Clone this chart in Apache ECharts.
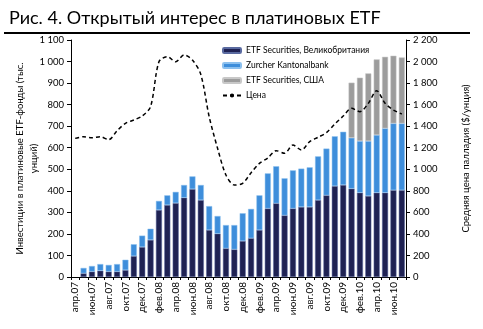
<!DOCTYPE html>
<html><head><meta charset="utf-8">
<script src="https://cdn.jsdelivr.net/npm/echarts@6/dist/echarts.min.js"></script>
<style>html,body{margin:0;padding:0;background:#fff}#c{width:483px;height:329px}</style>
</head><body><div id="c"></div>
<script>
const months = ['апр.07','май.07','июн.07','июл.07','авг.07','сен.07','окт.07','ноя.07','дек.07','янв.08','фев.08','мар.08','апр.08','май.08','июн.08','июл.08','авг.08','сен.08','окт.08','ноя.08','дек.08','янв.09','фев.09','мар.09','апр.09','май.09','июн.09','июл.09','авг.09','сен.09','окт.09','ноя.09','дек.09','янв.10','фев.10','мар.10','апр.10','май.10','июн.10','июл.10'];
const etfUK = [null,17,25,29,25,25,32,97,139,172,311,334,343,368,408,357,218,201,133,128,167,180,218,318,342,286,318,325,325,357,379,422,427,410,391,376,391,391,403,403];
const zkb = [null,25,26,31,31,35,48,55,53,52,42,45,52,59,59,70,111,82,108,113,129,136,161,163,172,172,177,178,184,203,217,231,247,236,240,255,268,299,310,310];
const etfUS = [null,null,null,null,null,null,null,null,null,null,null,null,null,null,null,null,null,null,null,null,null,null,null,null,null,null,null,null,null,null,null,null,null,256,294,314,351,332,314,306];
const price = [1287,1302,1293,1302,1275,1358,1427,1457,1494,1581,1998,2045,1998,2061,2014,1880,1488,1195,947,854,870,968,1055,1105,1173,1148,1225,1179,1256,1297,1340,1420,1494,1566,1535,1612,1730,1612,1550,1513];
const leftTicks = {min:0,max:1100,interval:100};
const rightTicks = {min:0,max:2200,interval:200};
const names = ['ETF Securities, Великобритания','Zurcher Kantonalbank','ETF Securities, США','Цена'];

const FONT = 'Lato';
const fmt = v => { const s = String(v); return s.length > 3 ? s.slice(0, s.length-3) + ' ' + s.slice(-3) : s; };
const chart = echarts.init(document.getElementById('c'), null, {renderer:'canvas'});
chart.setOption({
  animation:false,
  backgroundColor:'#fff',
  textStyle:{fontFamily:FONT},
  title:{text:'Рис. 4. Открытый интерес в платиновых ETF', left:4, top:4,
    textStyle:{fontFamily:FONT, fontSize:18, fontWeight:'normal', color:'#000'}},
  graphic:[{type:'rect', shape:{x:4,y:32,width:466,height:2}, style:{fill:'#000'}}],
  legend:{orient:'vertical', left:217, top:41, itemGap:6, itemWidth:18, itemHeight:5,
    textStyle:{fontFamily:FONT, fontSize:8.5, color:'#000'},
    data:[{name:names[0]},{name:names[1]},{name:names[2]},{name:names[3]}]},
  grid:{left:71, right:77, top:40, bottom:52},
  xAxis:{type:'category', data:months,
    axisLine:{lineStyle:{color:'#000', width:1}},
    axisTick:{show:true, interval:0, length:3, lineStyle:{color:'#000'}},
    axisLabel:{interval:1, rotate:90, hideOverlap:false, fontFamily:FONT, fontSize:10, color:'#000', margin:5}},
  yAxis:[{type:'value', min:leftTicks.min, max:leftTicks.max, interval:leftTicks.interval,
      name:'Инвестиции в платиновые ETF-фонды (тыс.\nунций)', nameLocation:'middle', nameGap:30, nameMoveOverlap:false,
      nameTextStyle:{fontFamily:FONT, fontSize:9.5, color:'#000', lineHeight:14},
      axisLine:{show:true, lineStyle:{color:'#000'}}, axisTick:{show:true, length:4, lineStyle:{color:'#000'}},
      splitLine:{show:false}, axisLabel:{formatter:fmt, fontFamily:FONT, fontSize:9.5, color:'#000', margin:7}},
    {type:'value', min:rightTicks.min, max:rightTicks.max, interval:rightTicks.interval, position:'right',
      name:'Средняя цена палладия ($/унция)', nameLocation:'middle', nameGap:55, nameRotate:90,
      nameTextStyle:{fontFamily:FONT, fontSize:9.5, color:'#000'},
      axisLine:{show:true, lineStyle:{color:'#000'}}, axisTick:{show:true, length:4, lineStyle:{color:'#000'}},
      splitLine:{show:false}, axisLabel:{formatter:fmt, fontFamily:FONT, fontSize:9.5, color:'#000', margin:7}}],
  series:[
    {name:names[0], type:'bar', stack:'a', data:etfUK, barWidth:6, itemStyle:{color:'#1f2253', borderColor:'#5a6aa0', borderWidth:0.5}},
    {name:names[1], type:'bar', stack:'a', data:zkb, barWidth:6, itemStyle:{color:'#3e8edb', borderColor:'#8cc0ee', borderWidth:0.5}},
    {name:names[2], type:'bar', stack:'a', data:etfUS, barWidth:6, itemStyle:{color:'#9c9c9c', borderColor:'#c8c8c8', borderWidth:0.5}},
    {name:names[3], type:'line', yAxisIndex:1, data:price, smooth:0.3, symbol:'none', showSymbol:false,
      lineStyle:{color:'#000', width:1.5, type:[4,3]}, itemStyle:{color:'#000'}}
  ]
});
</script></body></html>
